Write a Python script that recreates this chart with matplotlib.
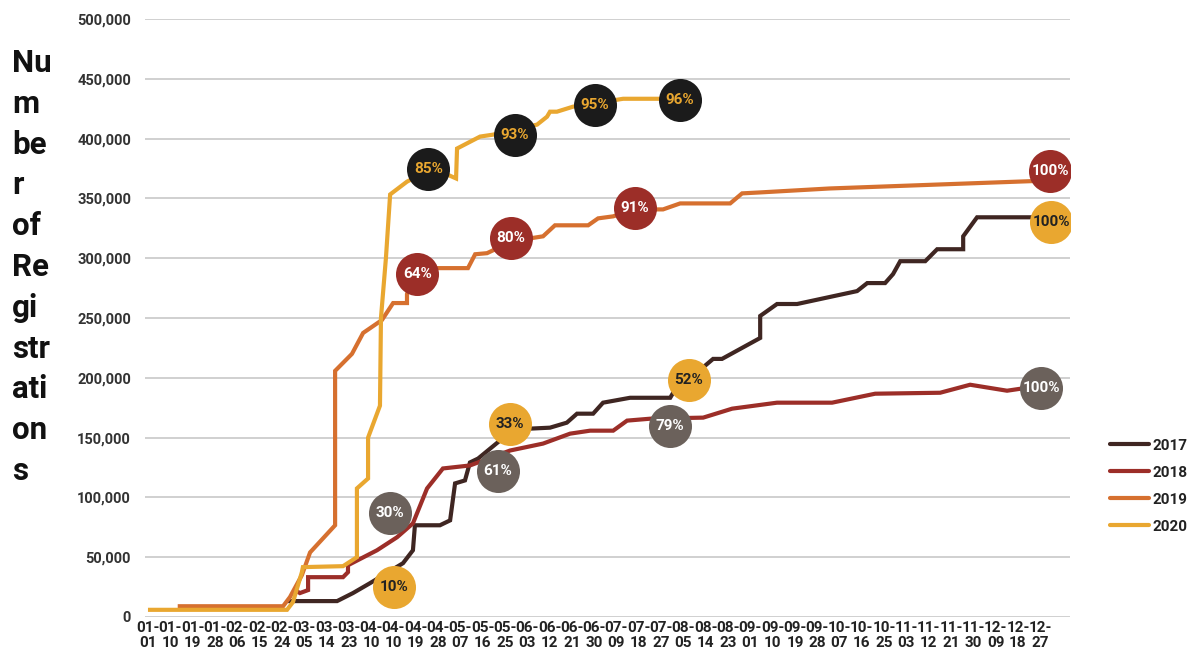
# =========================================================================== #
#                                   Imports                                   #
# =========================================================================== #

import numpy as np
import matplotlib.pyplot as plt

plt.rcParams['figure.facecolor'] = 'white'
plt.rcParams['font.family'] = ['Roboto', 'DejaVu Sans']

# =========================================================================== #
#                                   Données                                   #
# =========================================================================== #

# jour de l'année (0 = 01-01), registrations cumulées en milliers
days_2017 = [56.5, 76.3, 82.7, 89.6, 102.9, 106.9, 107.7, 117.8, 121.9, 123.9,
             127.9, 129.9, 133.2, 142, 143.3, 154.2, 162.2, 169, 173.1, 179.6,
             183.6, 194.5, 210.7, 211.9, 228, 231.6, 247, 247, 253.8, 261.9,
             286.1, 290.2, 297.4, 300.6, 303.5, 313.6, 318.4, 328.9, 328.9,
             334.5, 362]
vals_2017 = [13.3, 13.3, 20, 28.3, 45, 55.8, 76.7, 76.7, 80.8, 111.7,
             114.2, 129.2, 132.5, 147.5, 155.8, 157.5, 158.3, 162.5, 170, 170,
             179.2, 183.3, 183.3, 187.5, 215.8, 215.8, 233.3, 251.7, 261.7,
             261.7, 272.5, 279.2, 279.2, 286.7, 297.5, 297.5, 307.5, 307.5,
             318.3, 334.2, 334.2]

days_2018 = [59.3, 61.3, 64.6, 64.6, 78.7, 80.7, 80.7, 92.4, 100.5, 106.9,
             112.6, 119, 129.9, 146.1, 159.4, 170.3, 178.4, 187.7, 193.3,
             202.6, 224, 235.7, 253.8, 276, 293.4, 319.6, 331.7, 346.6, 360]
vals_2018 = [22.5, 20, 22.5, 33.3, 33.3, 37.5, 43.3, 55.8, 66.7, 78.3,
             107.5, 124.2, 126.7, 139.2, 145, 153.3, 155.8, 155.8, 164.2,
             165.8, 166.7, 174.2, 179.2, 179.2, 186.7, 187.5, 194.2, 189.2,
             193.3]

days_2019 = [12, 54.5, 57.3, 62.1, 65.4, 75.5, 75.5, 82.3, 86.8, 94.4, 98.9,
             104.5, 104.5, 107.7, 116.6, 129.1, 132, 136.8, 146.9, 159.4,
             164.2, 177.6, 181.6, 187.7, 196.5, 207.8, 214.7, 234.9, 239.7,
             247, 275, 364]
vals_2019 = [9, 9, 16.7, 35, 54, 76.7, 205.8, 220, 237.5, 248.3, 262.5,
             262.5, 270, 287.5, 291.7, 291.7, 303.3, 304.2, 314.2, 318.3,
             327.5, 327.5, 333.3, 335, 340.8, 340.8, 345.8, 345.8, 354.2,
             355, 358.3, 365]

days_2020 = [0, 56.1, 58.5, 62.1, 62.5, 78.7, 84.3, 84.3, 88.8, 88.8, 93.6,
             94, 96, 97.7, 104.5, 112.6, 120.7, 124.3, 124.7, 134, 139.2, 157,
             161, 162.2, 165, 171.5, 191.7, 214.7]
vals_2020 = [6, 6, 12.5, 37.5, 41.7, 42.5, 50, 107.5, 115.8, 150, 176.7,
             250, 300, 353.3, 364, 372.5, 370, 366.7, 391.7, 401.7, 403.3,
             411.7, 418.3, 422.5, 422.5, 426.7, 433.3, 433.3]

# Bulles de pourcentage : (jour, valeur, texte)
bulles_2017 = [(99.3, 25, '10%'), (146.1, 161.7, '33%'),
               (218.3, 198.3, '52%'), (364.4, 330, '100%')]
bulles_2018 = [(97.7, 86.7, '30%'), (141.2, 121.7, '61%'),
               (210.7, 160, '79%'), (360.4, 191.7, '100%')]
bulles_2019 = [(108.6, 286.7, '64%'), (146.5, 316.7, '80%'),
               (196.5, 341.7, '91%'), (364, 372.5, '100%')]
bulles_2020 = [(113.1, 374.2, '85%'), (148.1, 403.3, '93%'),
               (180.4, 428.3, '95%'), (214.7, 432.5, '96%')]

tick_labels = ['01-01', '01-10', '01-19', '01-28', '02-06', '02-15', '02-24',
               '03-05', '03-14', '03-23', '04-10', '04-10', '04-19', '04-28',
               '05-07', '05-16', '05-25', '06-03', '06-12', '06-21', '06-30',
               '07-09', '07-18', '07-27', '08-05', '08-14', '08-23', '09-01',
               '09-10', '09-19', '09-28', '10-07', '10-16', '10-25', '11-03',
               '11-12', '11-21', '11-30', '12-09', '12-18', '12-27']

# =========================================================================== #
#                                    Tracé                                    #
# =========================================================================== #

c17, c18, c19, c20 = '#3F2622', '#9C2E28', '#D6702F', '#E9A730'
gris, noir = '#6B615B', '#1B1B1B'

fig = plt.figure(figsize=(11.96, 6.55), dpi=100)
ax = fig.add_axes([145/1196, 38/655, 925/1196, 598/655])

series = [('2017', days_2017, vals_2017, c17),
          ('2018', days_2018, vals_2018, c18),
          ('2019', days_2019, vals_2019, c19),
          ('2020', days_2020, vals_2020, c20)]
for nom, d, v, c in series:
    ax.plot(d, np.array(v)*1000, color=c, lw=3, label=nom,
            solid_capstyle='butt', solid_joinstyle='miter', zorder=3)

styles = [(bulles_2017, c20, '#222222'), (bulles_2018, gris, 'white'),
          (bulles_2019, c18, 'white'), (bulles_2020, noir, c20)]
for bulles, fond, txt in styles:
    for d, v, t in bulles:
        ax.scatter(d, v*1000, s=960, color=fond, zorder=5, lw=0)
        ax.text(d, v*1000, t, color=txt, fontsize=11, fontweight='bold',
                ha='center', va='center', zorder=6)

ax.set_xlim(-1.2, 372)
ax.set_ylim(0, 500000)
ax.set_yticks(np.arange(0, 500001, 50000))
ax.set_yticklabels([f'{v:,}' for v in range(0, 500001, 50000)],
                   fontsize=10.5, fontweight='bold', color='#333333')
ax.set_xticks(np.arange(0, 361, 9))
ax.set_xticklabels([t.replace('-', '-\n') for t in tick_labels],
                   fontsize=11, fontweight='bold', color='#222222',
                   linespacing=1.1)
ax.tick_params(axis='both', length=0)
ax.tick_params(axis='y', pad=10)
ax.tick_params(axis='x', pad=3)
ax.grid(axis='y', color='#C8C8C8', lw=1.2)
ax.set_axisbelow(True)
for s in ax.spines.values():
    s.set_visible(False)

fig.text(12/1196, 1 - 48/655,
         'Nu\nm\nbe\nr\nof\nRe\ngi\nstr\nati\non\ns',
         fontsize=22.5, fontweight='bold', color='#111111',
         ha='left', va='top', linespacing=1.45)

leg = fig.legend(loc='upper left', bbox_to_anchor=(1096/1196, 1 - 425/655),
                 frameon=False, handlelength=2.6, handletextpad=0.2,
                 labelspacing=0.85, prop={'size': 11, 'weight': 'bold'})
for ligne in leg.get_lines():
    ligne.set_solid_capstyle('round')
    ligne.set_linewidth(3)
for t in leg.get_texts():
    t.set_color('#222222')

plt.savefig('out.png', dpi=100)
